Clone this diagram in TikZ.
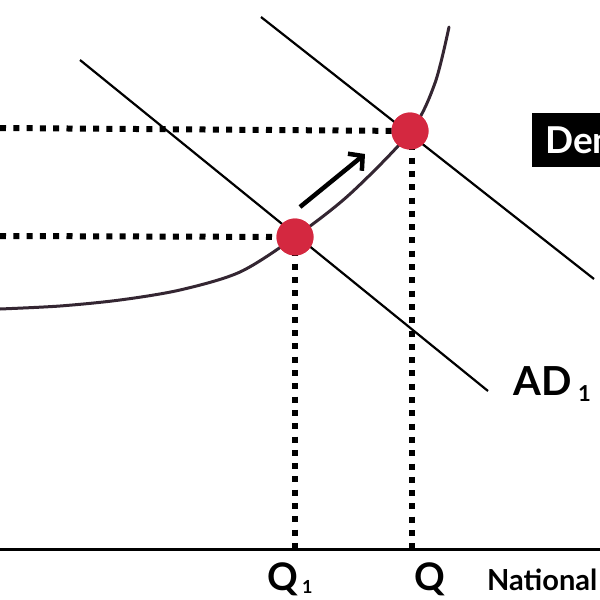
\documentclass[tikz,border=0pt]{standalone}
\usepackage{fontspec}
\setmainfont{Lato}
\usetikzlibrary{arrows.meta}
\definecolor{dotred}{RGB}{212,40,64}
\definecolor{curvecol}{RGB}{52,38,50}
\tikzset{
  adline/.style={line width=2.2pt, black},
  dotline/.style={line width=6pt, dash pattern=on 6pt off 7.3pt, black},
  eqdot/.style={circle, fill=dotred, minimum size=37pt, inner sep=0pt},
  lbl/.style={font=\bfseries\fontsize{38}{40}\selectfont, inner sep=0pt, anchor=base west},
  sub/.style={font=\bfseries\fontsize{21}{24}\selectfont, inner sep=0pt, anchor=base west},
}
\begin{document}
\begin{tikzpicture}[x=1pt,y=-1pt]
\useasboundingbox (0,0) rectangle (600,600);
\begin{scope}
\clip (0,0) rectangle (600,600);
% coordinates
\coordinate (ad1a) at (80,60);
\coordinate (ad1b) at (488,391);
\coordinate (ada) at (261,17);
\coordinate (adb) at (594,279);
\coordinate (axl) at (0,549);
\coordinate (axr) at (600,549);
\coordinate (yu) at (0,128);
\coordinate (yl) at (0,236);
\coordinate (xq1) at (295,549);
\coordinate (xq) at (412,549);
\coordinate (arrs) at (300,207);
\coordinate (arre) at (365,154);
% AD lines
\draw[adline] (ad1a) -- (ad1b);
\draw[adline] (ada) -- (adb);
% SRAS curve
\draw[line width=3pt, curvecol, line cap=round] plot[smooth, tension=0.5] coordinates
  {(0,309) (60,306) (120,300) (180,290) (240,272) (295,237) (350,194) (411,131) (435,83) (449,27)};
% axis
\draw[line width=3pt] (axl) -- (axr);
% dots
\node[eqdot] (e1) at (295,237) {};
\node[eqdot] (e2) at (410,131) {};
% dotted guides
\draw[dotline] (yu) -- (e2.center);
\draw[dotline] (yl) -- (e1.center);
\draw[dotline] (e1.center) -- (xq1);
\draw[dotline] (412,131) -- (xq);
\node[eqdot] at (e1) {};
\node[eqdot] at (e2) {};
% arrow
\draw[line width=4.5pt, -{Straight Barb[length=10pt, width=22pt, line width=4.5pt]}] (arrs) -- (arre);
% Demand box
\node[fill=black, text=white, font=\bfseries\fontsize{37}{40}\selectfont, anchor=north west,
      minimum height=54pt, inner xsep=13pt, inner ysep=0pt, text depth=0pt] (dem) at (532,113) {Demand};
% labels
\node[lbl, font=\bfseries\fontsize{40}{42}\selectfont] (ad1) at (513,395) {AD};
\node[sub, font=\bfseries\fontsize{22}{24}\selectfont] (ad1s) at (578,401) {1};
\node[lbl] (q1) at (267,590) {Q};
\node[sub, font=\bfseries\fontsize{18}{22}\selectfont] (q1s) at (302,593) {1};
\node[lbl] (q) at (414,590) {Q};
\node[font=\bfseries\fontsize{29}{32}\selectfont, inner sep=0pt, anchor=base west] (nat) at (487,590) {National};
\end{scope}
\end{tikzpicture}
\end{document}
